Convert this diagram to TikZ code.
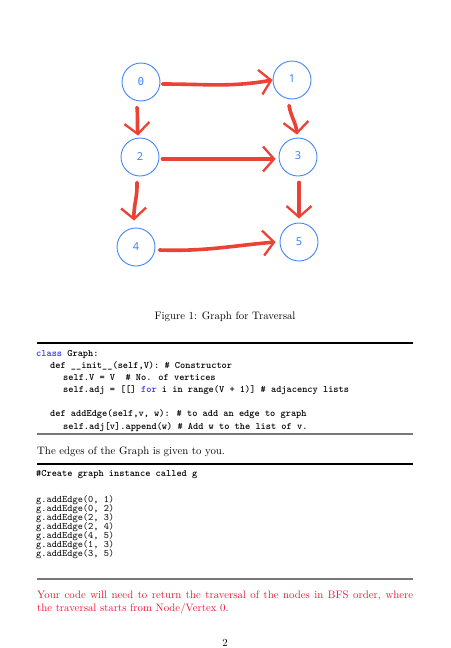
\documentclass[tikz,border=0pt]{standalone}
\usepackage{fontspec}
\usepackage{xcolor}
\usetikzlibrary{arrows.meta, positioning}
\newfontfamily\vertexfont{Noto Sans}
\newfontfamily\zerofont{DejaVu Sans Mono}
\definecolor{vertexblue}{RGB}{66, 133, 244}
\definecolor{penred}{RGB}{234, 67, 53}
\definecolor{kwblue}{RGB}{50, 50, 240}
\definecolor{rulegray}{RGB}{120, 120, 120}
\definecolor{notered}{RGB}{240, 20, 50}

\begin{document}
\begin{tikzpicture}[
    x=1pt, y=-1pt,
    vertex/.style={
        circle,
        draw=vertexblue,
        line width=0.9pt,
        minimum size=38pt,
        inner sep=0pt,
        text=vertexblue,
        font=\vertexfont\fontsize{11}{11}\selectfont
    },
    pen/.style={draw=penred, line width=3.6pt, line cap=round,
        -{Straight Barb[length=11pt, width=25pt, line width=2.3pt]}},
    body/.style={anchor=base west, inner sep=0pt, font=\fontsize{10.8}{13}\selectfont},
    code/.style={anchor=base west, inner sep=0pt, font=\ttfamily\fontsize{9.9}{12}\selectfont},
    boldcode/.style={code, font=\ttfamily\bfseries\fontsize{9.9}{12}\selectfont},
    toprule/.style={draw=black, line width=1.1pt},
    botrule/.style={draw=rulegray, line width=1.6pt}
]
    \useasboundingbox (0,0) rectangle (450,648);

    % Vertices
    \node [vertex] (v0) at (141,82) {\raisebox{2pt}{\zerofont 0}};
    \node [vertex] (v1) at (292,80) {\raisebox{2pt}{1}};
    \node [vertex] (v2) at (140,157) {2};
    \node [vertex] (v3) at (298,157) {\raisebox{2pt}{3}};
    \node [vertex] (v4) at (136,247) {\raisebox{1pt}{4}};
    \node [vertex] (v5) at (299,242) {5};

    % Edges
    \path [pen] (v0.east) ++(2,2) to[out=0, in=190] (v1.west);
    \path [pen] (v0.south) ++(-4,6) to[out=-85, in=95] ([xshift=-2pt, yshift=2pt]v2.north);
    \path [pen] (v1.south) ++(-3,6) to[out=-80, in=95] ([xshift=-1pt, yshift=3pt]v3.north);
    \path [pen] (v2.east) ++(3,2) to[out=0, in=180] ([xshift=-3pt, yshift=-2pt]v3.west);
    \path [pen] (v2.south) ++(-3,6) to[out=-88, in=92] ([xshift=-2pt, yshift=7pt]v4.north);
    \path [pen] (v3.south) ++(1,6) to[out=-90, in=90] ([yshift=4pt]v5.north);
    \path [pen] (v4.east) ++(4,3) to[out=-2, in=185] ([xshift=-4pt]v5.west);

    % Caption
    \node [anchor=base, inner sep=0pt, font=\fontsize{10.8}{13}\selectfont] (caption) at (225,319) {Figure 1: Graph for Traversal};

    % Class listing
    \draw [toprule] (37,343) -- (413,343);
    \node [boldcode] (c1) at (36,356) {\textcolor{kwblue}{class} Graph:};
    \node [boldcode] (c2) at (50,368) {def \_\_init\_\_(self,V): \# Constructor};
    \node [boldcode] (c3) at (63,380) {self.V = V\ \ \# No. of vertices};
    \node [boldcode] (c4) at (63,392) {self.adj = [[] \textcolor{kwblue}{for} i in range(V + 1)] \# adjacency lists};
    \node [boldcode] (c5) at (50,416) {def addEdge(self,v, w): \# to add an edge to graph};
    \node [boldcode] (c6) at (63,429) {self.adj[v].append(w) \# Add w to the list of v.};
    \draw [botrule] (37,434) -- (413,434);

    \node [body] (given) at (37,454) {The edges of the Graph is given to you.};

    % Edge listing
    \draw [toprule] (37,464) -- (413,464);
    \node [boldcode] (comment) at (36,476) {\#Create graph instance called g};
    \foreach \u/\v [count=\k] in {0/1, 0/2, 2/3, 2/4, 4/5, 1/3, 3/5}
        \node [code] (edge\k) at (36,492.9+9.15*\k) {g.addEdge(\u, \v)};
    \draw [botrule] (37,579) -- (413,579);

    % Task
    \node [body, text=notered] (task1) at (37,598) {\hbox to 376pt{Your code will need to return the traversal of the nodes in BFS order, where}};
    \node [body, text=notered] (task2) at (37,611) {the traversal starts from Node/Vertex 0.};

    \node [anchor=base, inner sep=0pt, font=\fontsize{10.8}{13}\selectfont] (pagenum) at (225,646) {2};
\end{tikzpicture}
\end{document}
